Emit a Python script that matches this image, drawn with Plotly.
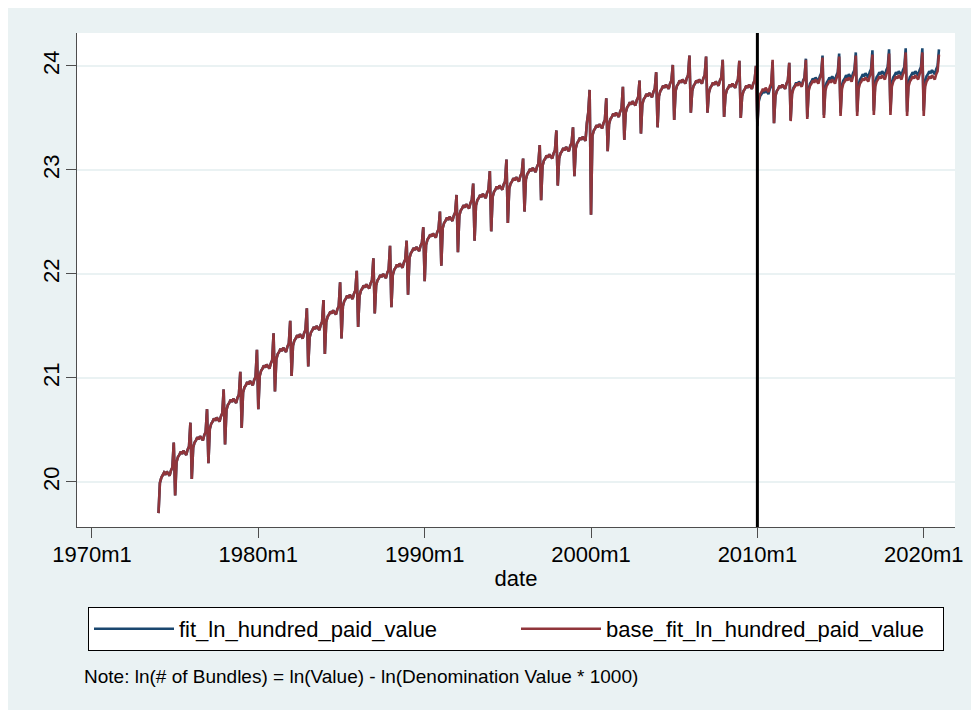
import plotly.graph_objects as go

# ---------------- data ----------------
years = list(range(1974, 2021))

# January value of each year (trough after the December spike), fitted series
jan_fit = [19.70, 19.87, 20.03, 20.18, 20.36, 20.52, 20.70, 20.87, 21.02, 21.11,
           21.23, 21.38, 21.49, 21.62, 21.68, 21.80, 21.93, 22.08, 22.21, 22.32,
           22.41, 22.49, 22.60, 22.71, 22.85, 22.94, 22.57, 23.18, 23.29, 23.35,
           23.41, 23.48, 23.55, 23.55, 23.51, 23.50, 23.42, 23.45, 23.48, 23.51,
           23.53, 23.55, 23.56, 23.57, 23.57, 23.56, 23.57]

# typical Feb-Nov level of each year
level_fit = [20.08, 20.28, 20.42, 20.60, 20.78, 20.95, 21.11, 21.27, 21.40, 21.48,
             21.63, 21.78, 21.88, 21.98, 22.08, 22.24, 22.37, 22.53, 22.65, 22.75,
             22.83, 22.91, 23.00, 23.13, 23.20, 23.30, 23.42, 23.53, 23.64, 23.72,
             23.80, 23.85, 23.85, 23.83, 23.81, 23.80, 23.75, 23.80, 23.83, 23.87,
             23.88, 23.90, 23.91, 23.93, 23.93, 23.93, 23.94]

# December value of each year (spike)
dec_fit = [20.38, 20.57, 20.70, 20.89, 21.06, 21.27, 21.43, 21.55, 21.67, 21.75,
           21.92, 22.03, 22.15, 22.27, 22.32, 22.45, 22.60, 22.76, 22.87, 22.99,
           23.10, 23.11, 23.24, 23.38, 23.41, 23.77, 23.69, 23.80, 23.86, 23.94,
           24.01, 24.10, 24.09, 24.06, 24.05, 24.00, 24.04, 24.03, 24.07, 24.10,
           24.12, 24.13, 24.15, 24.16, 24.17, 24.17, 24.16]

# Feb..Nov deviation from the yearly level
month_dev = [-0.09, -0.04, -0.02, 0.01, -0.01, 0.02, 0.00, -0.02, 0.03, 0.06]

# gap between fit and base series (fit - base), per year
gap = [0.0] * 36 + [-0.02, 0.00, 0.01, 0.02, 0.03, 0.03, 0.04, 0.04, 0.04, 0.04, 0.05]

# individual months that stand out (Y2K run-up)
special_months = {(1999, 10): 23.45, (1999, 11): 23.55}

x_ticks = [1970, 1980, 1990, 2000, 2010, 2020]
x_ticktext = ["1970m1", "1980m1", "1990m1", "2000m1", "2010m1", "2020m1"]
y_ticks = [20, 21, 22, 23, 24]

# ---------------- build monthly series ----------------
xs, fit, base = [], [], []
for i, yr in enumerate(years):
    for m in range(1, 13):
        if m == 1:
            v = jan_fit[i]
        elif m == 12:
            v = dec_fit[i]
        else:
            v = level_fit[i] + month_dev[m - 2]
        if (yr, m) in special_months:
            v = special_months[(yr, m)]
        xs.append(yr + (m - 1) / 12)
        fit.append(v)
        base.append(v - gap[i])

font_family = "Liberation Sans, Arial, sans-serif"
fig = go.Figure()
fig.add_trace(go.Scatter(x=xs, y=fit, mode="lines", name="fit_ln_hundred_paid_value",
                         line=dict(color="#1A476F", width=2.6)))
fig.add_trace(go.Scatter(x=xs, y=base, mode="lines", name="base_fit_ln_hundred_paid_value",
                         line=dict(color="#90353B", width=2.6)))

fig.add_shape(type="line", xref="x", yref="paper", x0=2010, x1=2010, y0=0, y1=1,
              line=dict(color="black", width=3))

fig.add_annotation(text="Note: ln(# of Bundles) = ln(Value) - ln(Denomination Value * 1000)",
                   xref="paper", yref="paper", x=(82 - 77) / 878, y=(527 - 676) / 494,
                   xanchor="left", yanchor="middle", showarrow=False,
                   font=dict(size=19, color="black", family=font_family))

fig.update_layout(
    width=979, height=710,
    margin=dict(l=69, r=32, t=25, b=191, autoexpand=False),
    paper_bgcolor="#EAF2F3", plot_bgcolor="white",
    font=dict(family=font_family, color="black", size=22),
    showlegend=True,
    legend=dict(orientation="h", x=0.5, xanchor="center", y=(527 - 607) / 494, yanchor="top",
                bordercolor="black", borderwidth=1, bgcolor="white",
                font=dict(size=22), itemwidth=80, entrywidth=332, entrywidthmode="pixels",
                traceorder="normal", tracegroupgap=0),
    xaxis=dict(range=[1969.1, 2021.88], tickvals=x_ticks, ticktext=x_ticktext,
               showgrid=False, zeroline=False, showline=True, linecolor="#4d4d4d", linewidth=1.2,
               ticks="outside", ticklen=10, tickcolor="#4d4d4d", tickwidth=1.2,
               tickfont=dict(size=22), automargin=False, ticklabelstandoff=-3,
               title=dict(text="date", font=dict(size=22), standoff=5)),
    yaxis=dict(range=[19.567, 24.317], tickvals=y_ticks,
               showgrid=True, gridcolor="#EAF2F3", gridwidth=1.5, zeroline=False,
               showline=True, linecolor="#4d4d4d", linewidth=1.2,
               ticks="outside", ticklen=10, tickcolor="#4d4d4d", tickwidth=1.2,
               tickangle=-90, tickfont=dict(size=22), ticklabelstandoff=-2, automargin=False),
)

fig.write_html("out.html")
